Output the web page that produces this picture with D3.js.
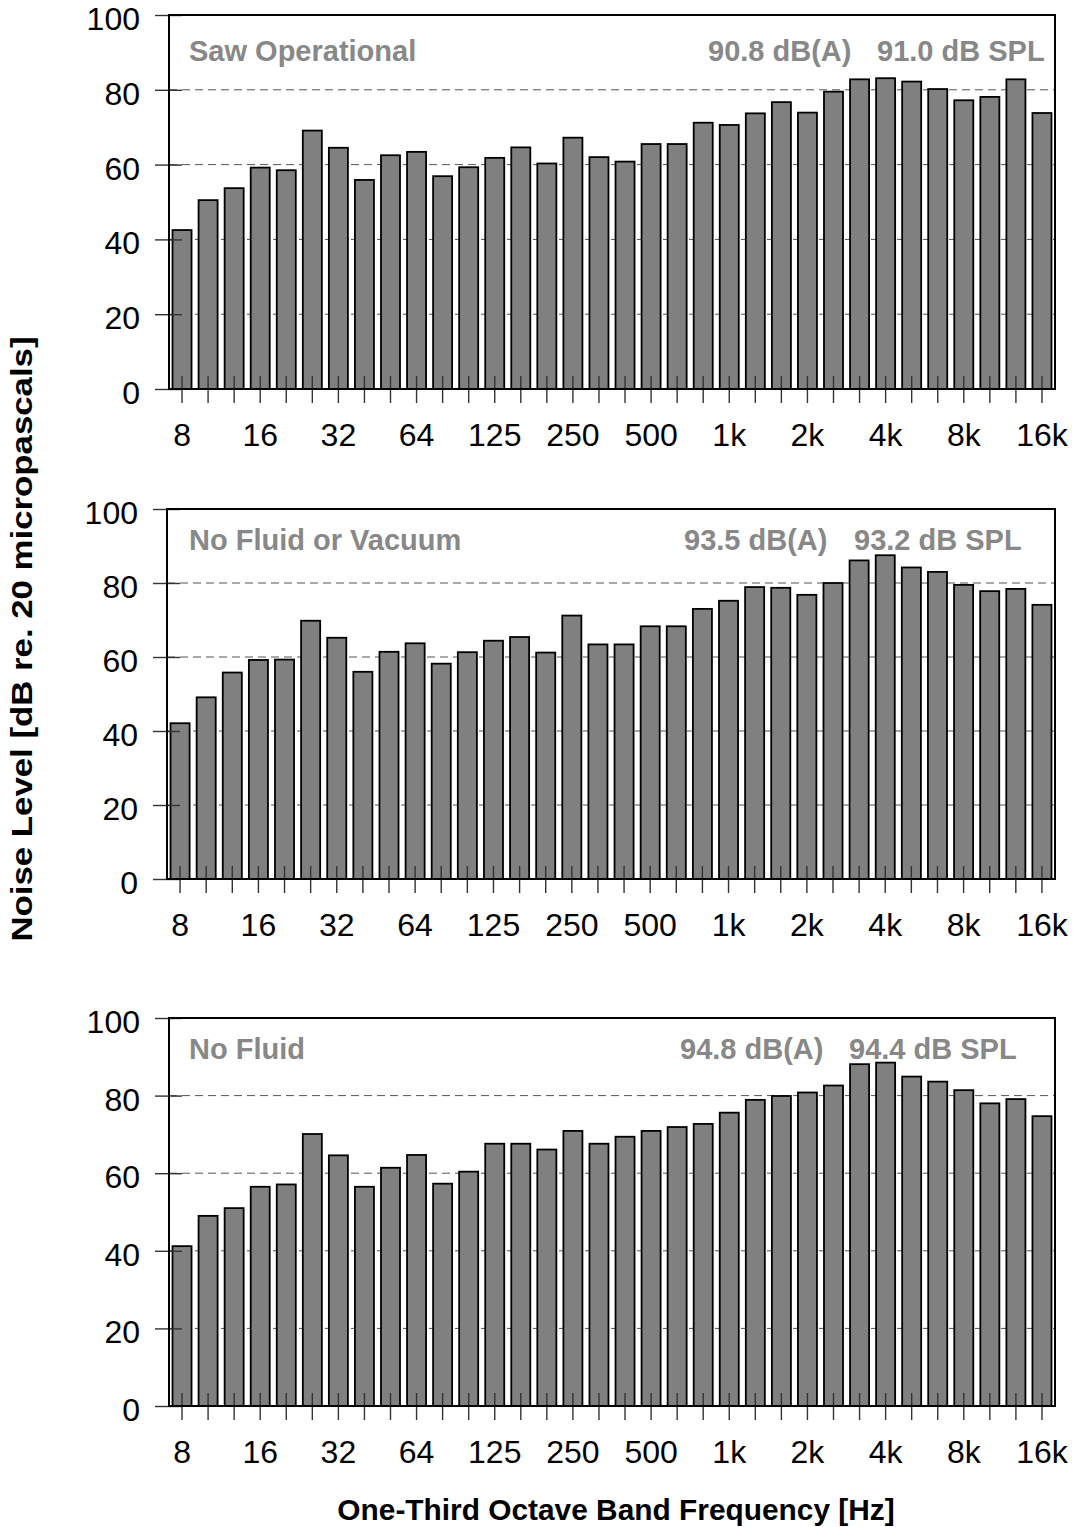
<!DOCTYPE html>
<meta charset="utf-8">
<style>
    body {
        margin: 0;
        background-color: #ffffff;
    }

    svg text {
        font-family: Arial, "Liberation Sans", sans-serif;
    }

    .bar {
        fill: #808080;
        stroke: #000000;
        stroke-width: 1.8px;
    }

    .grid line {
        stroke: #555555;
        stroke-width: 1px;
        stroke-dasharray: 8, 5;
    }

    .axis path {
        display: none;
    }

    .axis line {
        stroke: #333333;
        stroke-width: 1.4px;
    }

    .axis text {
        font-size: 32px;
        fill: #000000;
    }

    .frame {
        fill: none;
        stroke: #000000;
        stroke-width: 2px;
    }

    .panel-label {
        font-size: 29px;
        font-weight: bold;
        fill: #888888;
    }

    .axis-title {
        font-size: 29px;
        font-weight: bold;
        fill: #000000;
    }
</style>

<body>
    <svg width="1077" height="1527"></svg>
    <script src="https://d3js.org/d3.v7.min.js"></script>
    <script>
        // one-third octave bands, 8 Hz .. 16 kHz
        var bands = ["8", "10", "12.5", "16", "20", "25", "31.5", "40", "50", "63", "80", "100",
            "125", "160", "200", "250", "315", "400", "500", "630", "800", "1k", "1.25k", "1.6k",
            "2k", "2.5k", "3.15k", "4k", "5k", "6.3k", "8k", "10k", "12.5k", "16k"];

        // bands that carry a label, and the label shown
        var labeledBands = ["8", "16", "31.5", "63", "125", "250", "500", "1k", "2k", "4k", "8k", "16k"];
        var bandLabels = ["8", "16", "32", "64", "125", "250", "500", "1k", "2k", "4k", "8k", "16k"];

        var yTicks = [0, 20, 40, 60, 80, 100];

        var sawOperational = [42.5, 50.5, 53.7, 59.2, 58.5, 69.1, 64.5, 55.9, 62.5, 63.4, 56.9, 59.3,
            61.8, 64.6, 60.3, 67.2, 62.0, 60.8, 65.5, 65.5, 71.2, 70.6, 73.7, 76.7,
            73.9, 79.5, 82.8, 83.1, 82.2, 80.2, 77.2, 78.1, 82.8, 73.8];

        var noFluidOrVacuum = [42.1, 49.1, 55.8, 59.2, 59.3, 69.8, 65.2, 56.0, 61.4, 63.7, 58.2, 61.3,
            64.4, 65.4, 61.2, 71.2, 63.4, 63.4, 68.3, 68.3, 73.0, 75.2, 78.9, 78.7,
            76.8, 80.0, 86.1, 87.5, 84.2, 83.0, 79.5, 77.8, 78.4, 74.1];

        var noFluid = [41.2, 49.0, 51.0, 56.5, 57.1, 70.1, 64.6, 56.5, 61.4, 64.7, 57.3, 60.4,
            67.6, 67.6, 66.1, 70.9, 67.6, 69.4, 70.9, 71.9, 72.7, 75.6, 78.9, 79.9,
            80.8, 82.6, 88.1, 88.5, 84.9, 83.6, 81.4, 78.0, 79.1, 74.7];

        var panelNames = ["Saw Operational", "No Fluid or Vacuum", "No Fluid"];
        var dBA = ["90.8 dB(A)", "93.5 dB(A)", "94.8 dB(A)"];
        var dBSPL = ["91.0 dB SPL", "93.2 dB SPL", "94.4 dB SPL"];
        var series = [sawOperational, noFluidOrVacuum, noFluid];

        // layout of each panel (pixels)
        var layout = [
            { left: 169, right: 1055, top: 15, bottom: 389, nameY: 61, dbaX: 708, splX: 877 },
            { left: 167, right: 1055, top: 509, bottom: 879, nameY: 550, dbaX: 684, splX: 854 },
            { left: 169, right: 1055, top: 1018, bottom: 1406, nameY: 1059, dbaX: 680, splX: 849 }
        ];

        var svg = d3.select("svg");

        series.forEach(function(values, p) {
            var L = layout[p];
            var width = L.right - L.left,
                height = L.bottom - L.top;

            var g = svg.append("g")
                .attr("transform", "translate(" + L.left + "," + L.top + ")");

            var x = d3.scaleBand().domain(bands).range([0, width])
                .paddingInner(0.27).paddingOuter(0.135);
            var y = d3.scaleLinear().domain([0, 100]).range([height, 0]);

            // dashed grid
            g.append("g")
                .attr("class", "grid")
                .selectAll("line")
                .data([20, 40, 60, 80])
                .enter().append("line")
                .attr("x1", 0)
                .attr("x2", width)
                .attr("y1", function(d) { return y(d); })
                .attr("y2", function(d) { return y(d); });

            g.selectAll(".bar")
                .data(values)
                .enter().append("rect")
                .attr("class", "bar")
                .attr("x", function(d, i) { return x(bands[i]); })
                .attr("width", x.bandwidth())
                .attr("y", function(d) { return y(d); })
                .attr("height", function(d) { return height - y(d); });

            // x axis, ticks cross the axis line
            var xAxis = g.append("g")
                .attr("class", "x axis")
                .attr("transform", "translate(0," + height + ")")
                .call(d3.axisBottom(x).tickSize(14).tickFormat(function(d) {
                    var k = labeledBands.indexOf(d);
                    return k < 0 ? "" : bandLabels[k];
                }));
            xAxis.selectAll("line").attr("y1", -13).attr("y2", 14);
            xAxis.selectAll("text").attr("y", 57).attr("dy", null);

            // y axis
            var yAxis = g.append("g")
                .attr("class", "y axis")
                .call(d3.axisLeft(y).tickValues(yTicks).tickSize(14));
            yAxis.selectAll("line").attr("x1", 13).attr("x2", -14);
            yAxis.selectAll("text").attr("x", -29).attr("dy", null).attr("y", 14.5);

            g.append("rect")
                .attr("class", "frame")
                .attr("width", width)
                .attr("height", height);

            svg.append("text")
                .attr("class", "panel-label")
                .attr("x", 189)
                .attr("y", L.nameY)
                .text(panelNames[p]);
            svg.append("text")
                .attr("class", "panel-label")
                .attr("x", L.dbaX)
                .attr("y", L.nameY)
                .text(dBA[p]);
            svg.append("text")
                .attr("class", "panel-label")
                .attr("x", L.splX)
                .attr("y", L.nameY)
                .text(dBSPL[p]);
        });

        // axis titles, stretched a little along their length like the original
        svg.append("text")
            .attr("class", "axis-title")
            .attr("text-anchor", "middle")
            .attr("transform", "translate(616,1520) scale(1.03,1)")
            .text("One-Third Octave Band Frequency [Hz]");

        svg.append("text")
            .attr("class", "axis-title")
            .attr("text-anchor", "middle")
            .attr("transform", "translate(32,639) rotate(-90) scale(1.2,1)")
            .text("Noise Level [dB re. 20 micropascals]");
    </script>
</body>
